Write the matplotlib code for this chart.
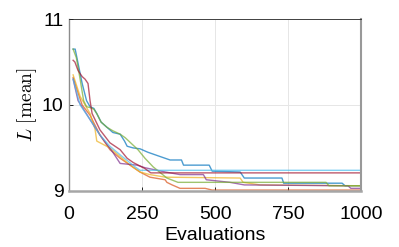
import matplotlib
matplotlib.use('Agg')
import matplotlib.pyplot as plt

plt.rcParams['font.family'] = ['Liberation Sans', 'DejaVu Sans']
plt.rcParams['mathtext.fontset'] = 'cm'

# best-so-far curves (evaluations, L mean)
blue_x = [14, 21, 30, 45, 60, 72, 85, 95, 110, 130, 150, 175, 190, 199, 220, 243, 270, 312, 346, 385, 392, 480, 490, 586, 600, 729, 735, 935, 945, 1000]
blue_y = [10.65, 10.65, 10.50, 10.25, 10.05, 9.98, 9.96, 9.90, 9.80, 9.74, 9.68, 9.66, 9.58, 9.52, 9.50, 9.49, 9.45, 9.40, 9.36, 9.36, 9.30, 9.30, 9.23, 9.22, 9.15, 9.15, 9.09, 9.09, 9.06, 9.06]

green_x = [14, 25, 38, 50, 60, 72, 85, 95, 110, 130, 150, 175, 192, 236, 260, 288, 335, 373, 880, 890, 1000]
green_y = [10.65, 10.55, 10.30, 10.05, 9.98, 9.97, 9.95, 9.90, 9.80, 9.74, 9.70, 9.66, 9.62, 9.48, 9.38, 9.28, 9.15, 9.10, 9.10, 9.06, 9.06]

red_x = [14, 20, 31, 45, 55, 65, 72, 79, 89, 106, 140, 175, 199, 220, 260, 280, 1000]
red_y = [10.52, 10.50, 10.40, 10.33, 10.30, 10.25, 10.05, 9.90, 9.83, 9.71, 9.56, 9.48, 9.38, 9.33, 9.26, 9.21, 9.21]

orange_x = [14, 30, 45, 72, 106, 140, 175, 209, 243, 277, 329, 335, 353, 380, 466, 490, 1000]
orange_y = [10.32, 10.15, 10.00, 9.88, 9.65, 9.48, 9.38, 9.30, 9.22, 9.16, 9.13, 9.10, 9.07, 9.03, 9.03, 9.01, 9.01]

yellow_x = [14, 38, 72, 89, 95, 140, 175, 209, 243, 277, 330, 586, 596, 654, 1000]
yellow_y = [10.35, 10.10, 9.90, 9.72, 9.58, 9.50, 9.40, 9.30, 9.22, 9.19, 9.16, 9.15, 9.10, 9.07, 9.06]

lblue_x = [14, 38, 72, 106, 140, 175, 226, 243, 1000]
lblue_y = [10.30, 10.00, 9.83, 9.65, 9.52, 9.42, 9.28, 9.24, 9.24]

purple_x = [14, 31, 72, 106, 150, 175, 233, 260, 330, 380, 460, 470, 551, 600, 955, 965, 1000]
purple_y = [10.30, 10.05, 9.83, 9.65, 9.45, 9.32, 9.30, 9.27, 9.22, 9.19, 9.19, 9.13, 9.10, 9.07, 9.06, 9.03, 9.03]

series = [
    (blue_x, blue_y, (0.0, 0.447, 0.741)),
    (orange_x, orange_y, (0.85, 0.325, 0.098)),
    (yellow_x, yellow_y, (0.929, 0.694, 0.125)),
    (purple_x, purple_y, (0.494, 0.184, 0.556)),
    (green_x, green_y, (0.466, 0.674, 0.188)),
    (lblue_x, lblue_y, (0.301, 0.745, 0.933)),
    (red_x, red_y, (0.635, 0.078, 0.184)),
]

fig = plt.figure(figsize=(3.99, 2.47), dpi=100)
ax = fig.add_axes([0.173, 0.227, 0.732, 0.696])

for xs, ys, c in series:
    ax.plot(xs, ys, color=c, lw=1.0, alpha=0.7)

ax.set_xlim(0, 1000)
ax.set_ylim(9, 11)
ax.set_xticks([0, 250, 500, 750, 1000])
ax.set_yticks([9, 10, 11])
ax.grid(True, color=(0.9, 0.9, 0.9), lw=0.7)
ax.set_axisbelow(True)
ax.tick_params(direction='in', length=3, width=0.6, labelsize=14, colors='black',
               top=False, right=False)
ax.tick_params(axis='x', pad=11)
ax.tick_params(axis='y', pad=4)
for s in ax.spines.values():
    s.set_color((0.15, 0.15, 0.15))
    s.set_linewidth(0.6)
ax.spines['left'].set_linewidth(1.0)
ax.spines['left'].set_color((0.55, 0.55, 0.55))
ax.spines['bottom'].set_linewidth(1.8)
ax.spines['bottom'].set_color((0.65, 0.65, 0.65))
ax.spines['right'].set_color((0.6, 0.6, 0.6))
ax.spines['right'].set_linewidth(1.5)

ax.set_xlabel('Evaluations', fontsize=14, labelpad=3)
ax.set_ylabel(r'$L\ \mathrm{[mean]}$', fontsize=14, labelpad=2)

fig.savefig('out.png', dpi=100)
